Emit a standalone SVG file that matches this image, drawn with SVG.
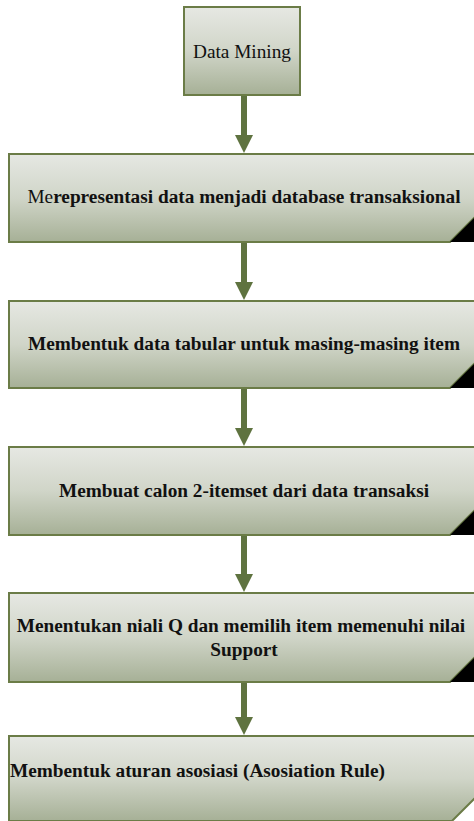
<svg xmlns="http://www.w3.org/2000/svg" width="474" height="821" viewBox="0 0 474 821">
<style>
.box{stroke:#6b7c47;stroke-width:2;fill:url(#g)}
.fold{fill:#000}
.t{font-family:"Liberation Serif","Times New Roman",serif;font-size:19.3px;fill:#111}
.b{font-weight:bold}
.c{stroke:#5f7340;stroke-width:6;fill:none}
.h{fill:#5f7340}
</style>
<defs>
<linearGradient id="g" x1="0" y1="0" x2="0" y2="1">
<stop offset="0" stop-color="#e6e8e3"/>
<stop offset="0.5" stop-color="#d0d5c8"/>
<stop offset="1" stop-color="#a6b096"/>
</linearGradient>
</defs>
<rect width="474" height="821" fill="#fff"/>
<g id="connectors">
<line class="c" x1="244" y1="95" x2="244" y2="137"/>
<polygon class="h" points="235,135 253,135 244,153"/>
<line class="c" x1="244" y1="242" x2="244" y2="284"/>
<polygon class="h" points="235,282 253,282 244,300"/>
<line class="c" x1="244" y1="388" x2="244" y2="430"/>
<polygon class="h" points="235,428 253,428 244,446"/>
<line class="c" x1="244" y1="535" x2="244" y2="576"/>
<polygon class="h" points="235,574 253,574 244,592"/>
<line class="c" x1="244" y1="682" x2="244" y2="719"/>
<polygon class="h" points="235,717 253,717 244,735"/>
</g>
<g id="n0">
<rect class="box" x="184" y="7" width="116" height="88"/>
<text class="t" x="242" y="58" text-anchor="middle">Data Mining</text>
</g>
<g id="n1">
<polygon class="box" points="9,154 482,154 482,210 450,242 9,242"/>
<polygon class="fold" points="450,242 482,242 482,210"/>
<text class="t" x="244" y="203" text-anchor="middle">Me<tspan class="b">representasi data menjadi database transaksional</tspan></text>
</g>
<g id="n2">
<polygon class="box" points="9,301 482,301 482,356 450,388 9,388"/>
<polygon class="fold" points="450,388 482,388 482,356"/>
<text class="t b" x="244" y="350" text-anchor="middle">Membentuk data tabular untuk masing-masing item</text>
</g>
<g id="n3">
<polygon class="box" points="9,447 482,447 482,503 450,535 9,535"/>
<polygon class="fold" points="450,535 482,535 482,503"/>
<text class="t b" x="244" y="497" text-anchor="middle">Membuat calon 2-itemset dari data transaksi</text>
</g>
<g id="n4">
<polygon class="box" points="9,593 482,593 482,650 450,682 9,682"/>
<polygon class="fold" points="450,682 482,682 482,650"/>
<text class="t b" x="241" y="632" text-anchor="middle">Menentukan niali Q dan memilih item memenuhi nilai</text>
<text class="t b" x="244" y="656" text-anchor="middle">Support</text>
</g>
<g id="n5">
<polygon class="box" points="9,736 482,736 482,791 452,821 9,821"/>
<text class="t b" x="10" y="777">Membentuk aturan asosiasi (Asosiation Rule)</text>
</g>
</svg>
